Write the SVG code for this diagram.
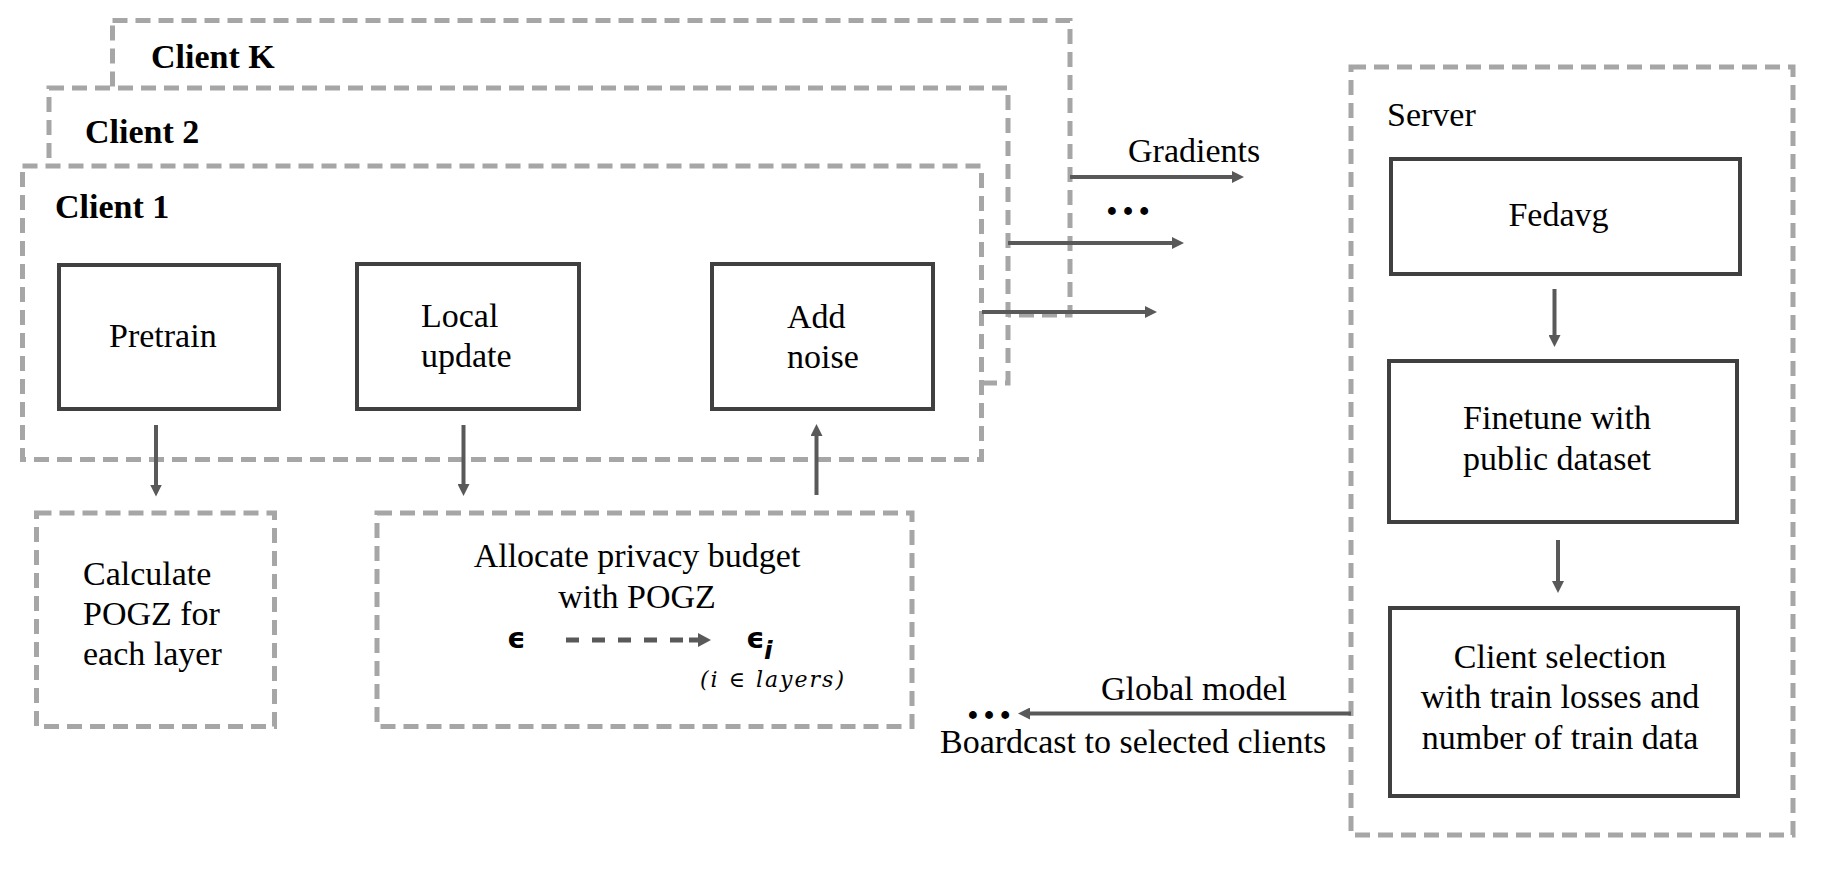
<svg xmlns="http://www.w3.org/2000/svg" width="1822" height="874" viewBox="0 0 1822 874">
<style>
.dash{fill:#fff;stroke:#a6a6a6;stroke-width:5;stroke-dasharray:15 8}
.box{fill:#fff;stroke:#404040;stroke-width:4}
.t{font-family:"Liberation Serif","Times New Roman",serif;font-size:34px;fill:#000}
.b{font-weight:bold}
.c{text-anchor:middle}
.arr{stroke:#595959;stroke-width:4;fill:none;marker-end:url(#ah)}
.dots{font-family:"Liberation Serif","Times New Roman",serif;font-size:48px;font-weight:bold;fill:#000}
.eps{font-family:"DejaVu Sans","Noto Sans",sans-serif;font-weight:bold;fill:#000}
</style>
<defs>
<marker id="ah" markerUnits="userSpaceOnUse" markerWidth="12" markerHeight="12" viewBox="0 0 12 12" refX="2" refY="6" orient="auto"><path d="M0,0 L12,6 L0,12 z" fill="#595959"/></marker>
</defs>
<rect x="0" y="0" width="1822" height="874" fill="#fff"/>

<g id="client-k">
<rect class="dash" x="112.5" y="20.5" width="957.5" height="294.5"/>
<text class="t b" x="151" y="68">Client K</text>
</g>
<g id="client-2">
<rect class="dash" x="49" y="88" width="959" height="295"/>
<text class="t b" x="85" y="143">Client 2</text>
</g>
<g id="client-1">
<rect class="dash" x="22.5" y="166" width="959" height="293.5"/>
<text class="t b" x="55" y="218">Client 1</text>
</g>
<g id="pretrain">
<rect class="box" x="59" y="265" width="220" height="144"/>
<text class="t" x="109" y="347">Pretrain</text>
</g>
<g id="local-update">
<rect class="box" x="357" y="264" width="222" height="145"/>
<text class="t" x="421" y="327">Local</text>
<text class="t" x="421" y="367">update</text>
</g>
<g id="add-noise">
<rect class="box" x="712" y="264" width="221" height="145"/>
<text class="t" x="787" y="328">Add</text>
<text class="t" x="787" y="368">noise</text>
</g>
<g id="calculate-pogz">
<rect class="dash" x="36.5" y="513" width="238" height="213.5"/>
<text class="t" x="83" y="585">Calculate</text>
<text class="t" x="83" y="625">POGZ for</text>
<text class="t" x="83" y="665">each layer</text>
</g>
<g id="allocate-budget">
<rect class="dash" x="377" y="513" width="535" height="213.5"/>
<text class="t c" x="637" y="567">Allocate privacy budget</text>
<text class="t c" x="637" y="608">with POGZ</text>
<text class="eps" x="507" y="648" font-size="29">ϵ</text>
<text class="eps" x="746" y="648" font-size="29">ϵ</text>
<text class="eps" x="764" y="659" font-size="25" font-style="oblique">i</text>
<text x="700" y="687" font-family="DejaVu Serif, Liberation Serif, serif" font-size="22" font-style="italic" textLength="144" lengthAdjust="spacing">(i  <tspan font-style="normal">∈</tspan> layers)</text>
<line x1="566" y1="640" x2="683" y2="640" stroke="#595959" stroke-width="5" stroke-dasharray="13 13"/>
<line x1="689" y1="640" x2="700" y2="640" stroke="#595959" stroke-width="5"/>
<polygon points="698,633 711,640 698,647" fill="#595959"/>
</g>
<g id="server">
<rect class="dash" x="1351" y="67" width="442" height="768"/>
<text class="t" x="1387" y="126">Server</text>
</g>
<g id="fedavg">
<rect class="box" x="1391" y="159" width="349" height="115"/>
<text class="t c" x="1558.5" y="226">Fedavg</text>
</g>
<g id="finetune">
<rect class="box" x="1389" y="361" width="348" height="161"/>
<text class="t c" x="1557" y="429">Finetune with</text>
<text class="t c" x="1557" y="470">public dataset</text>
</g>
<g id="client-selection">
<rect class="box" x="1390" y="608" width="348" height="188"/>
<text class="t c" x="1560" y="668">Client selection</text>
<text class="t c" x="1560" y="708">with train losses and</text>
<text class="t c" x="1560" y="749">number of train data</text>
</g>

<g id="connectors">
<line class="arr" x1="156" y1="425" x2="156" y2="486.5"/>
<line class="arr" x1="463.5" y1="425" x2="463.5" y2="486"/>
<line class="arr" x1="816.5" y1="495" x2="816.5" y2="434"/>
<line class="arr" x1="1070" y1="177" x2="1234" y2="177"/>
<line class="arr" x1="1008" y1="243" x2="1174" y2="243"/>
<line class="arr" x1="982" y1="312" x2="1147" y2="312"/>
<line class="arr" x1="1554.5" y1="289" x2="1554.5" y2="337"/>
<line class="arr" x1="1558" y1="540" x2="1558" y2="583"/>
<line class="arr" x1="1351" y1="713.5" x2="1028" y2="713.5"/>
<text class="t" x="1128" y="161.5">Gradients</text>
<text class="dots" x="1104" y="215">…</text>
<text class="t" x="1101" y="700">Global model</text>
<text class="dots" x="965" y="719">…</text>
<text class="t" x="940" y="752.5">Boardcast to selected clients</text>
</g>
</svg>
